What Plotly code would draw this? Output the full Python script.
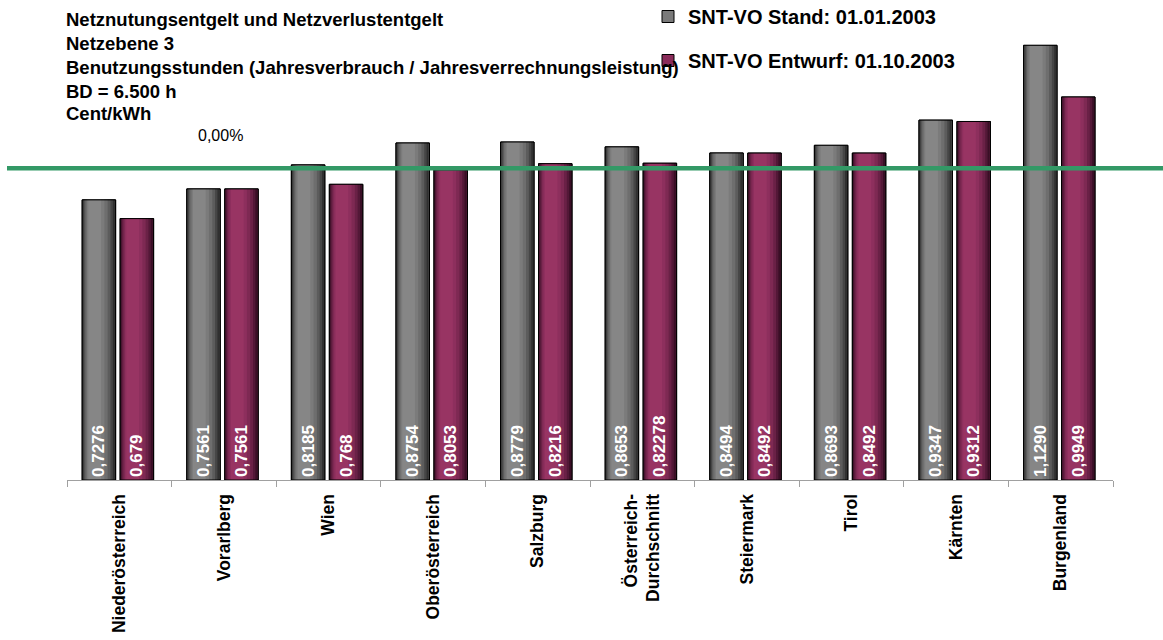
import plotly.graph_objects as go

# ---------------- data ----------------
categories = ["Niederösterreich", "Vorarlberg", "Wien", "Oberösterreich", "Salzburg",
              "Österreich-<br>Durchschnitt", "Steiermark", "Tirol", "Kärnten", "Burgenland"]
stand_values = [0.7276, 0.7561, 0.8185, 0.8754, 0.8779, 0.8653, 0.8494, 0.8693, 0.9347, 1.1290]
stand_labels = ["0,7276", "0,7561", "0,8185", "0,8754", "0,8779", "0,8653", "0,8494", "0,8693", "0,9347", "1,1290"]
entwurf_values = [0.679, 0.7561, 0.768, 0.8053, 0.8216, 0.82278, 0.8492, 0.8492, 0.9312, 0.9949]
entwurf_labels = ["0,679", "0,7561", "0,768", "0,8053", "0,8216", "0,82278", "0,8492", "0,8492", "0,9312", "0,9949"]
series_names = ["SNT-VO Stand: 01.01.2003", "SNT-VO Entwurf: 01.10.2003"]
title_lines = ["Netznutungsentgelt und Netzverlustentgelt", "Netzebene 3",
               "Benutzungsstunden (Jahresverbrauch / Jahresverrechnungsleistung)",
               "BD = 6.500 h", "Cent/kWh"]
reference_level = 0.81
reference_text = "0,00%"

# ---------------- styling ----------------
FONT = "Arial, Liberation Sans, Helvetica, sans-serif"
L, R, T, B = 67, 50, 18, 160
W_PX, H_PX = 1163, 640
PW, PH = W_PX - L - R, H_PX - T - B

def px_x(px):
    return (px - L) / PW

def px_y(py):
    return (H_PX - B - py) / PH

BAR_W = 0.32
grey_layers = [(1.0, "#7a7a7a"), (0.96, "#303030"), (0.88, "#464646"), (0.78, "#5c5c5c"),
               (0.66, "#6e6e6e"), (0.52, "#7b7b7b"), (0.38, "#868686")]
maroon_layers = [(1.0, "#8a2c5a"), (0.96, "#3a0f26"), (0.88, "#531837"), (0.78, "#6a2146"),
                 (0.66, "#7e2953"), (0.52, "#8d2f5d"), (0.38, "#983463")]

series = [
    (stand_values, stand_labels, series_names[0], -0.355, grey_layers, "g1"),
    (entwurf_values, entwurf_labels, series_names[1], 0.008, maroon_layers, "g2"),
]

fig = go.Figure()
for vals, labels, name, off, layers, grp in series:
    center = off + BAR_W / 2
    for i, (f, col) in enumerate(layers):
        w = BAR_W * f
        c = center - (1 - f) * BAR_W * 0.2 if i > 1 else center
        fig.add_trace(go.Bar(
            x=categories, y=vals, width=w, offset=c - w / 2,
            marker=dict(color=col, line=dict(color="black", width=1 if i == 0 else 0)),
            name=name, legendgroup=grp, showlegend=(i == 0), hoverinfo="skip",
        ))
    # outline + value labels
    fig.add_trace(go.Bar(
        x=categories, y=vals, width=BAR_W, offset=off,
        marker=dict(color="rgba(0,0,0,0)", line=dict(color="black", width=1)),
        text=labels, textposition="inside", insidetextanchor="start", textangle=-90,
        constraintext="none",
        textfont=dict(family=FONT, size=17, color="white", weight="bold"),
        name=name, legendgroup=grp, showlegend=False,
    ))

# reference line
fig.add_shape(type="line", xref="paper", yref="y", x0=px_x(7), x1=px_x(1163),
              y0=reference_level, y1=reference_level,
              line=dict(color="#339966", width=4.5))

# title lines
title_y = [20, 43, 67, 91, 114]
for txt, yy in zip(title_lines, title_y):
    fig.add_annotation(text=txt, xref="paper", yref="paper", x=px_x(64), y=px_y(yy),
                       xanchor="left", yanchor="middle", showarrow=False,
                       font=dict(family=FONT, size=18.5, color="black", weight="bold"))

fig.add_annotation(text=reference_text, xref="paper", yref="paper", x=px_x(220), y=px_y(135),
                   xanchor="center", yanchor="middle", showarrow=False,
                   font=dict(family=FONT, size=16, color="black"))

fig.update_layout(
    width=W_PX, height=H_PX,
    margin=dict(l=L, r=R, t=T, b=B, autoexpand=False),
    paper_bgcolor="white", plot_bgcolor="white",
    barmode="overlay",
    showlegend=True,
    legend=dict(x=px_x(648), y=px_y(-3), xanchor="left", yanchor="top",
                font=dict(family=FONT, size=20, color="black", weight="bold"),
                bgcolor="rgba(0,0,0,0)", tracegroupgap=15, traceorder="grouped"),
    xaxis=dict(range=[-0.5, 9.5], showline=True, linecolor="#a0a0a0", linewidth=1,
               ticks="outside", tickson="boundaries", ticklen=6, tickcolor="#a0a0a0",
               tickangle=-90, ticklabelstandoff=6,
               tickfont=dict(family=FONT, size=17.5, color="black", weight="bold"),
               showgrid=False, zeroline=False),
    yaxis=dict(range=[0, 1.2], visible=False, showgrid=False, zeroline=False),
)

fig.write_html("out.html")
